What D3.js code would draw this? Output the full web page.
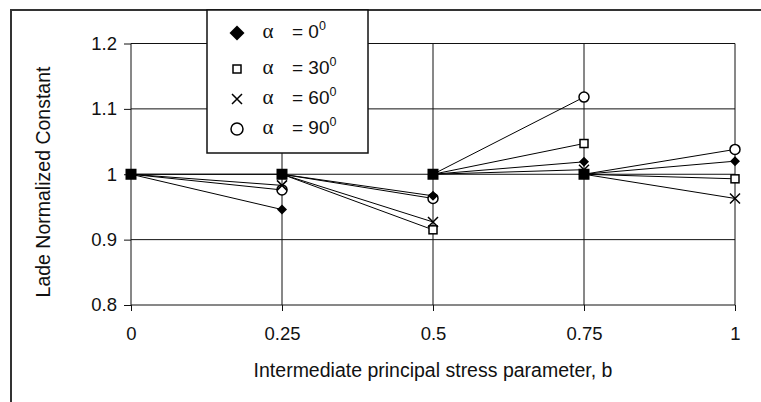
<!DOCTYPE html>
<html>
<head>
<meta charset="utf-8">
<script src="https://cdn.jsdelivr.net/npm/d3@7"></script>
<style>
  body { margin: 0; background: #fff; }
  svg { display: block; font-family: "Liberation Sans", Arial, sans-serif; }
</style>
</head>
<body>
<svg id="chart" width="761" height="402"></svg>
<script>
// b values (x axis) and y ticks
const bTicks = [0, 0.25, 0.5, 0.75, 1];
const yTicks = [0.8, 0.9, 1, 1.1, 1.2];
const yTickLabels = ["0.8", "0.9", "1", "1.1", "1.2"];
const xTickLabels = ["0", "0.25", "0.5", "0.75", "1"];

// each segment starts at the normalised value 1 at the previous b
const baseValue = 1;
const bEnd = [0.25, 0.5, 0.75, 1];

// series values at bEnd
const alpha0 = [0.946, 0.967, 1.019, 1.020];
const alpha30 = [1.000, 0.915, 1.047, 0.993];
const alpha60 = [0.983, 0.927, 1.007, 0.963];
const alpha90 = [0.976, 0.963, 1.118, 1.038];

const seriesNames = ["0", "30", "60", "90"];
const seriesValues = [alpha0, alpha30, alpha60, alpha90];
const seriesSymbols = ["diamond", "square", "cross", "circle"];

const svg = d3.select("#chart");
const margin = { left: 131, right: 26, top: 43.5, bottom: 97 };
const W = 761, H = 402;

const x = d3.scaleLinear().domain([0, 1]).range([margin.left, W - margin.right]);
const y = d3.scaleLinear().domain([0.8, 1.2]).range([H - margin.bottom, margin.top]);

// outer frame (top and left edges visible)
svg.append("path")
  .attr("d", `M11,${H} L11,10 L${W},10`)
  .attr("fill", "none")
  .attr("stroke", "#333")
  .attr("stroke-width", 2);

// grid
const grid = svg.append("g");
grid.selectAll("line.h").data(yTicks).enter().append("line")
  .attr("x1", x(0)).attr("x2", x(1))
  .attr("y1", d => y(d)).attr("y2", d => y(d))
  .attr("stroke", "#111").attr("stroke-width", 1);
grid.selectAll("line.v").data(bTicks).enter().append("line")
  .attr("y1", y(0.8)).attr("y2", y(1.2))
  .attr("x1", d => x(d)).attr("x2", d => x(d))
  .attr("stroke", "#111").attr("stroke-width", 1);

// axes
const yAxis = svg.append("g")
  .attr("transform", `translate(${x(0)},0)`)
  .call(d3.axisLeft(y).tickValues(yTicks).tickSize(7).tickPadding(7)
    .tickFormat((d, i) => yTickLabels[i]));
const xAxis = svg.append("g")
  .attr("transform", `translate(0,${y(0.8)})`)
  .call(d3.axisBottom(x).tickValues(bTicks).tickSize(6).tickPadding(16)
    .tickFormat((d, i) => xTickLabels[i]));
[xAxis, yAxis].forEach(a => {
  a.select(".domain").remove();
  a.selectAll("line").attr("stroke", "#111");
  a.selectAll("text").attr("font-size", 18.5).attr("fill", "#111")
    .attr("font-family", "Liberation Sans, Arial, sans-serif");
});

// axis titles
svg.append("text")
  .attr("x", (x(0) + x(1)) / 2).attr("y", 377)
  .attr("text-anchor", "middle").attr("font-size", 19.5).attr("fill", "#111")
  .text("Intermediate principal stress parameter, b");
svg.append("text")
  .attr("transform", `translate(50,${182}) rotate(-90)`)
  .attr("text-anchor", "middle").attr("font-size", 19.5).attr("fill", "#111")
  .text("Lade Normalized Constant");

// segments
const lines = svg.append("g");
seriesValues.forEach(vals => {
  vals.forEach((v, i) => {
    const b0 = i === 0 ? 0 : bEnd[i - 1];
    lines.append("line")
      .attr("x1", x(b0)).attr("y1", y(baseValue))
      .attr("x2", x(bEnd[i])).attr("y2", y(v))
      .attr("stroke", "#000").attr("stroke-width", 1);
  });
});

function drawSymbol(g, type, cx, cy, s) {
  if (type === "diamond") {
    g.append("path")
      .attr("d", `M${cx},${cy - s} L${cx + s},${cy} L${cx},${cy + s} L${cx - s},${cy} Z`)
      .attr("fill", "#000");
  } else if (type === "square") {
    g.append("rect")
      .attr("x", cx - s * 0.8).attr("y", cy - s * 0.8)
      .attr("width", s * 1.6).attr("height", s * 1.6)
      .attr("fill", "#fff").attr("stroke", "#000").attr("stroke-width", 1.5);
  } else if (type === "cross") {
    g.append("path")
      .attr("d", `M${cx - s},${cy - s} L${cx + s},${cy + s} M${cx - s},${cy + s} L${cx + s},${cy - s}`)
      .attr("stroke", "#000").attr("stroke-width", 1.5);
  } else if (type === "circle") {
    g.append("circle")
      .attr("cx", cx).attr("cy", cy).attr("r", s)
      .attr("fill", "#fff").attr("stroke", "#000").attr("stroke-width", 1.5);
  }
}

// markers at segment ends
const marks = svg.append("g");
[3, 1, 2, 0].forEach(si => {
  seriesValues[si].forEach((v, i) => {
    drawSymbol(marks, seriesSymbols[si], x(bEnd[i]), y(v), 5);
  });
});

// overlapping start markers (all series at value 1)
bTicks.slice(0, -1).forEach(b => {
  marks.append("rect")
    .attr("x", x(b) - 5.5).attr("y", y(baseValue) - 5.5)
    .attr("width", 11).attr("height", 11)
    .attr("fill", "#000");
});

// legend
const legend = svg.append("g");
legend.append("rect")
  .attr("x", 207).attr("y", 10).attr("width", 161).attr("height", 143)
  .attr("fill", "#fff").attr("stroke", "#111").attr("stroke-width", 1.5);
const rowBase = [38, 74, 104, 134];
const legendSize = [7.5, 5, 5, 6];
seriesNames.forEach((name, i) => {
  const g = legend.append("g");
  drawSymbol(g, seriesSymbols[i], 237, rowBase[i] - 5, legendSize[i]);
  g.append("text")
    .attr("x", 268).attr("y", rowBase[i])
    .attr("text-anchor", "middle")
    .attr("font-family", "Liberation Serif, serif").attr("font-size", 21)
    .attr("fill", "#111").text("α");
  const t = g.append("text")
    .attr("x", 292).attr("y", rowBase[i])
    .attr("font-size", 19).attr("fill", "#111");
  t.append("tspan").text("= " + name);
  t.append("tspan").attr("dy", -8).attr("font-size", 12.5).text("0");
});
</script>
</body>
</html>
